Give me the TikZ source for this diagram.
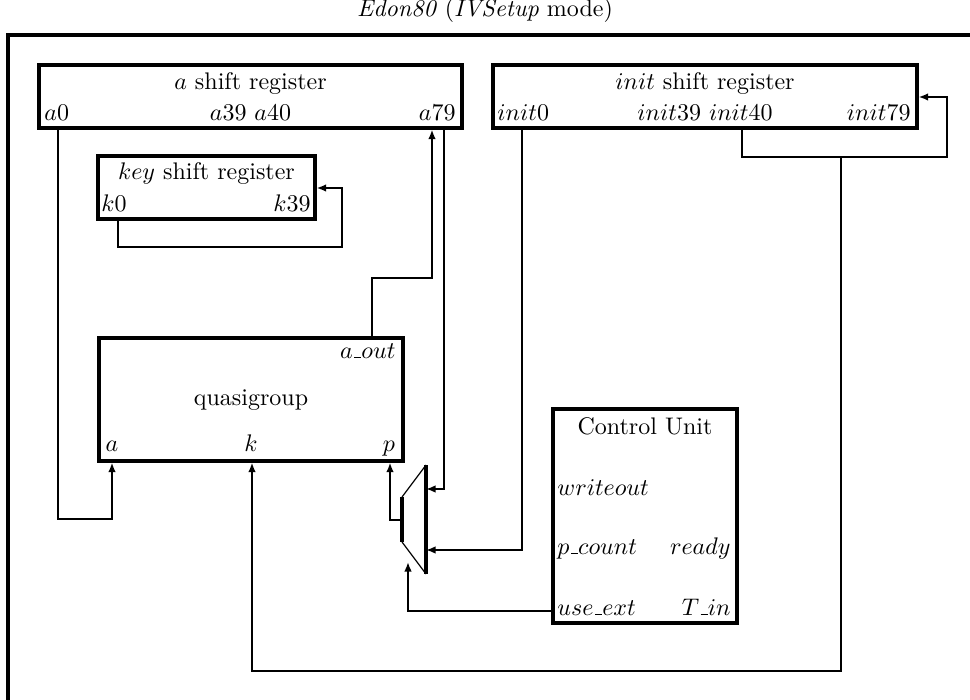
\documentclass[tikz,border=0pt]{standalone}
\usetikzlibrary{arrows.meta,fit}
% low underscore rule as used in signal names
\newcommand{\lowbar}{\mbox{\kern.06em\vbox{\hrule width.3em}}}
\begin{document}
\begin{tikzpicture}[x=0.4167pt,y=-0.4167pt,
  box/.style={draw,line width=1.3pt,inner sep=0pt},
  lbl/.style={inner sep=0pt,anchor=base},
  lblw/.style={inner sep=0pt,anchor=base west},
  lble/.style={inner sep=0pt,anchor=base east},
  wire/.style={line width=0.8pt},
  bus/.style={line width=1.2pt},
  tip/.style={-{Latex[length=4pt,width=3.2pt]}},
]
\useasboundingbox (0,0) rectangle (970,700);

% enclosing frame of the whole unit
\draw[line width=1.3pt] (8,715) -- (8,35) -- (985,35);
\node[lbl] (title) at (485,17) {\textit{Edon80} (\textit{IVSetup} mode)};

% a shift register
\node[box, fit={(39,65) (462,128)}] (areg) {};
\node[lbl] (atitle) at (250.5,90) {$a$ shift register};
\node[lblw] (a0) at (44,121) {$a0$};
\node[lbl] (amid) at (250.5,121) {$a39$ $a40$};
\node[lble] (a79) at (456,121) {$a79$};

% init shift register
\node[box, fit={(493,65) (917,128)}] (ireg) {};
\node[lbl] (ititle) at (705,90) {$init$ shift register};
\node[lblw] (i0) at (497,121) {$init0$};
\node[lbl] (imid) at (705,121) {$init39$ $init40$};
\node[lble] (i79) at (911,121) {$init79$};

% key shift register
\node[box, fit={(98,156) (315,219)}] (kreg) {};
\node[lbl] (ktitle) at (206.5,180) {$key$ shift register};
\node[lblw] (k0) at (101,212) {$k0$};
\node[lble] (k39) at (311,212) {$k39$};

% quasigroup
\node[box, fit={(99,338) (403,461)}] (qg) {};
\node[lble] (qaout) at (396,358) {$a\lowbar out$};
\node[lbl] (qname) at (251,405) {quasigroup};
\node[lbl] (qa) at (112,451) {$a$};
\node[lbl] (qk) at (251,451) {$k$};
\node[lbl] (qp) at (389,451) {$p$};

% control unit
\node[box, fit={(553,409) (737,623)}] (cu) {};
\node[lbl] (cuname) at (645,434) {Control Unit};
\node[lblw] (cuwo) at (557,495) {$writeout$};
\node[lblw] (cupc) at (557,554) {$p\lowbar count$};
\node[lble] (curdy) at (731,554) {$ready$};
\node[lblw] (cuue) at (557,615) {$use\lowbar ext$};
\node[lble] (cutin) at (731,615) {$T\lowbar in$};

% multiplexer in front of the p input
\coordinate (mrt) at (426,465);
\coordinate (mrb) at (426,574);
\coordinate (mlt) at (402,497);
\coordinate (mlb) at (402,542);
\draw[line width=0.5pt] (mlt) -- (mrt) (mlb) -- (mrb);
\draw[line width=1.3pt] (mrt) -- (mrb) (mlt) -- (mlb);
\coordinate (muxinA) at (426,489);
\coordinate (muxinB) at (426,550);
\coordinate (muxout) at (402,520);
\coordinate (muxsel) at (408,562);
\coordinate (tap) at (841,157);

% connections
\draw[wire,tip] (areg.south -| 58,0) |- (112,519) -- (qg.south -| 112,0);
\draw[wire,tip] (qg.north -| 372,0) |- (432,278) -- (areg.south -| 432,0);
\draw[bus,tip] (areg.south -| 444,0) |- (muxinA);
\draw[bus,tip] (ireg.south -| 522,0) |- (muxinB);
\draw[bus,tip] (muxout) -| (qg.south -| 390,0);
\draw[bus,tip] (cu.west |- 0,611) -| (muxsel);
\draw[wire,tip] (kreg.south -| 118,0) |- (342,247) |- (kreg.east |- 0,188);
\draw[wire,tip] (ireg.south -| 742,0) |- (947,157) |- (ireg.east |- 0,97);
\draw[bus,tip] (tap) |- (252,671) -- (qg.south -| 252,0);
\end{tikzpicture}
\end{document}
